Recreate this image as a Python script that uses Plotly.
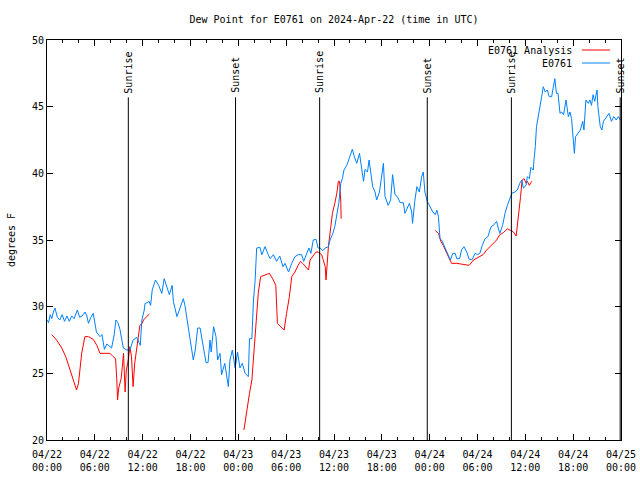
import datetime as dt
import plotly.graph_objects as go

# ---------------- data ----------------
base_time = dt.datetime(2024, 4, 22, 0, 0)

obs_hours = [0.0, 0.2, 0.4, 0.6, 0.8, 1.0, 1.3, 1.6, 1.9, 2.2, 2.5, 2.8, 3.1, 3.4, 3.8, 4.1, 4.4, 4.77, 5.0, 5.2,
             5.5, 5.8, 6.2, 6.65, 6.9, 7.2, 7.5, 7.7, 8.1, 8.4, 8.65, 8.9, 9.15, 9.57, 10.0, 10.4, 10.8, 11.25, 11.5,
             11.7, 11.9, 12.2, 12.3, 12.6, 12.8, 13.0, 13.2, 13.6, 14.0, 14.4, 14.7, 15.0, 15.35, 15.7, 15.85, 16.3,
             16.7, 17.1, 17.3, 17.7, 18.15, 18.35, 18.6, 18.9, 19.2, 19.4, 19.7, 19.95, 20.2, 20.45, 20.6, 20.9, 21.2,
             21.4, 21.7, 21.9, 22.3, 22.6, 22.75, 22.95, 23.25, 23.6, 23.9, 24.2, 24.5, 24.85, 25.25, 25.4, 25.7, 25.9,
             26.1, 26.3, 26.7, 26.95, 27.35, 27.75, 28.0, 28.4, 28.8, 29.2, 29.6, 29.85, 30.3, 30.7, 31.1, 31.5, 31.95,
             32.2, 32.6, 32.85, 33.1, 33.4, 33.75, 34.0, 34.25, 34.6, 34.9, 35.3, 35.5, 35.8, 36.1, 36.4, 36.6, 36.85,
             37.05, 37.25, 37.6, 37.9, 38.3, 38.55, 38.85, 39.2, 39.5, 39.7, 39.9, 40.2, 40.4, 40.6, 40.85, 41.15, 41.35,
             41.7, 42.0, 42.2, 42.4, 42.8, 43.1, 43.35, 43.65, 43.95, 44.3, 44.7, 44.9, 45.2, 45.45, 45.75, 45.85, 46.15,
             46.4, 46.7, 47.0, 47.2, 47.4, 47.7, 48.0, 48.4, 48.7, 48.9, 49.1, 49.3, 49.5, 49.7, 50.05, 50.35, 50.6, 50.9,
             51.2, 51.4, 51.75, 52.0, 52.3, 52.65, 52.95, 53.35, 53.7, 54.0, 54.3, 54.6, 54.95, 55.3, 55.7, 56.0, 56.4,
             56.6, 56.8, 57.15, 57.45, 57.75, 58.0, 58.3, 58.7, 59.0, 59.3, 59.55, 59.75, 60.1, 60.25, 60.5, 60.7, 61.0,
             61.1, 61.25, 61.4, 61.75, 62.05, 62.25, 62.5, 62.75, 63.0, 63.3, 63.5, 63.7, 63.9, 64.1, 64.35, 64.55, 64.8,
             65.1, 65.4, 65.6, 65.8, 66.0, 66.15, 66.3, 66.6, 66.9, 67.2, 67.35, 67.6, 67.9, 68.1, 68.3, 68.5, 68.7,
             69.0, 69.1, 69.4, 69.6, 69.8, 70.2, 70.5, 70.8, 71.1, 71.4, 71.65, 71.95]
obs_dewpoint = [29.0, 28.8, 29.4, 29.1, 29.6, 29.9, 29.2, 29.0, 29.4, 28.9, 29.3, 28.9, 29.3, 29.1, 29.75, 29.2, 29.3,
                29.6, 29.3, 28.75, 29.2, 29.5, 28.1, 27.75, 27.9, 26.8, 27.2, 27.1, 26.9, 27.8, 29.0, 28.8, 28.3, 26.9,
                26.75, 26.75, 27.5, 27.7, 27.3, 27.1, 29.0, 29.75, 30.25, 30.3, 30.4, 30.1, 31.25, 32.0, 31.6, 31.0,
                32.1, 31.6, 30.9, 31.6, 30.4, 29.25, 29.9, 30.6, 30.1, 28.5, 26.9, 26.0, 26.75, 28.4, 28.4, 27.7, 26.75,
                25.8, 25.8, 27.5, 26.6, 28.5, 27.75, 26.0, 26.5, 24.9, 25.75, 24.75, 24.0, 26.0, 26.75, 25.4, 26.6,
                25.4, 25.75, 25.0, 24.75, 27.6, 27.6, 30.5, 31.9, 34.4, 34.45, 33.9, 34.5, 33.9, 33.6, 33.9, 33.4,
                33.8, 33.0, 33.25, 32.6, 33.25, 33.75, 33.9, 33.9, 33.4, 34.0, 34.4, 34.0, 35.0, 35.05, 34.4, 34.4,
                34.2, 34.4, 34.5, 35.0, 35.4, 36.0, 36.9, 37.75, 39.25, 39.6, 40.25, 40.6, 41.1, 41.8, 41.25, 40.75,
                41.5, 40.25, 39.4, 40.3, 40.1, 41.0, 40.1, 39.0, 38.6, 38.0, 38.6, 39.75, 40.75, 38.25, 37.6, 38.0,
                39.9, 38.4, 38.25, 37.8, 37.8, 37.0, 37.4, 37.75, 37.1, 36.25, 38.0, 39.0, 38.6, 39.75, 40.1, 38.6,
                37.9, 37.5, 37.1, 36.9, 37.25, 36.75, 35.1, 35.0, 34.75, 34.25, 33.9, 33.5, 34.0, 34.0, 33.6, 33.6,
                34.25, 34.5, 34.1, 33.55, 33.55, 34.0, 33.9, 34.0, 34.6, 35.1, 35.25, 36.0, 36.1, 36.4, 35.9, 35.5,
                36.1, 37.0, 37.6, 38.0, 38.5, 38.6, 38.75, 39.25, 39.5, 38.9, 39.1, 39.75, 39.6, 40.45, 40.25, 41.1,
                42.0, 43.5, 44.9, 45.75, 46.5, 46.1, 46.25, 45.75, 45.75, 46.6, 47.1, 46.0, 46.0, 44.5, 44.6, 44.4,
                45.5, 44.25, 44.6, 44.1, 42.6, 41.5, 42.75, 43.0, 43.25, 43.9, 43.25, 45.5, 45.25, 45.5, 45.1, 45.9,
                45.4, 46.25, 45.0, 43.5, 43.25, 43.9, 44.25, 44.5, 43.9, 44.25, 44.0, 44.25, 44.0]

ana_hours = [0.6, 1.2, 1.85, 2.35, 2.9, 3.4, 3.7, 3.95, 4.35, 4.75, 5.2, 5.8, 6.25, 6.65, 7.3, 7.9, 8.3, 8.6, 8.75,
             8.85, 9.0, 9.3, 9.45, 9.6, 9.8, 9.95, 10.2, 10.4, 10.6, 10.8, 11.0, 11.25, 11.45, 11.65, 11.95, 12.1,
             12.5, 12.85, 18.0,
             24.7, 25.05, 25.4, 25.7, 25.9, 26.1, 26.3, 26.5, 26.8, 27.35, 27.9, 28.3, 28.7, 28.9, 29.3, 29.75, 30.05,
             30.4, 30.7, 31.1, 31.5, 31.8, 32.15, 32.8, 33.0, 33.3, 33.75, 34.0, 34.45, 34.6, 34.9, 35.0, 35.1, 35.3,
             35.6, 35.8, 36.1, 36.35, 36.55, 36.7, 36.85, 36.9, 42.0,
             48.7, 49.1, 49.4, 49.7, 50.15, 50.5, 50.75, 51.4, 52.0, 52.65, 52.95, 53.5, 54.1, 54.7, 55.15, 55.6,
             56.0, 56.4, 56.8, 57.25, 57.75, 58.1, 58.5, 58.85, 59.0, 59.2, 59.4, 59.6, 59.85, 60.1, 60.25, 60.5,
             60.8]
ana_dewpoint = [27.9, 27.5, 26.9, 26.25, 25.25, 24.25, 23.75, 24.25, 26.5, 27.75, 27.75, 27.55, 27.1, 26.5, 26.5,
                26.5, 26.25, 26.1, 24.6, 23.0, 23.9, 24.6, 25.5, 26.5, 23.6, 25.25, 26.0, 27.0, 26.25, 24.0, 25.75,
                27.0, 27.75, 28.6, 28.75, 29.0, 29.25, 29.45, None,
                20.75, 22.25, 23.5, 24.5, 26.25, 28.25, 29.75, 31.0, 32.25, 32.4, 32.5, 32.1, 31.6, 28.75, 28.5, 28.25,
                29.5, 30.75, 32.25, 32.6, 33.1, 33.4, 33.2, 32.75, 33.5, 33.75, 34.1, 34.1, 33.9, 33.6, 33.0, 32.0,
                33.0, 34.5, 36.0, 37.0, 37.75, 38.5, 39.4, 39.4, 37.9, 36.6, None,
                35.7, 35.5, 34.9, 34.6, 34.0, 33.6, 33.25, 33.25, 33.2, 33.1, 33.1, 33.5, 33.7, 33.9, 34.25, 34.5,
                34.75, 35.0, 35.4, 35.55, 35.85, 35.75, 35.6, 35.3, 36.0, 36.9, 38.25, 39.5, 39.6, 39.25, 39.4, 39.1,
                39.4]

sun_event_hours = [10.2, 23.65, 34.2, 47.7, 58.25, 71.9]
sun_event_labels = ["Sunrise", "Sunset", "Sunrise", "Sunset", "Sunrise", "Sunset"]

series_names = ["E0761 Analysis", "E0761"]
series_colors = ["#ff0000", "#0080ff"]


def to_time(hours):
    return [base_time + dt.timedelta(hours=h) for h in hours]


FONT = "DejaVu Sans Mono"

fig = go.Figure()
fig.add_trace(go.Scatter(x=to_time(ana_hours), y=ana_dewpoint, mode="lines", name=series_names[0],
                         line=dict(color=series_colors[0], width=1), connectgaps=False))
fig.add_trace(go.Scatter(x=to_time(obs_hours), y=obs_dewpoint, mode="lines", name=series_names[1],
                         line=dict(color=series_colors[1], width=1)))

# sunrise / sunset markers
for h, lab in zip(sun_event_hours, sun_event_labels):
    t = base_time + dt.timedelta(hours=h)
    fig.add_shape(type="line", xref="x", yref="y", x0=t, x1=t, y0=20, y1=45.7,
                  line=dict(color="black", width=1))
    fig.add_annotation(x=t, y=45.85, xref="x", yref="y", text=lab, textangle=-90, showarrow=False,
                       xanchor="center", yanchor="bottom", font=dict(family=FONT, size=10, color="black"))

# gnuplot-style legend (text left, sample right)
legend_rows_y = [0.975, 0.9425]
for name, color, yy in zip(series_names, series_colors, legend_rows_y):
    fig.add_annotation(x=0.918, y=yy, xref="paper", yref="paper", text=name, showarrow=False,
                       xanchor="right", yanchor="middle", font=dict(family=FONT, size=10, color="black"))
    fig.add_shape(type="line", xref="paper", yref="paper", x0=0.932, x1=0.981, y0=yy, y1=yy,
                  line=dict(color=color, width=1))

fig.update_layout(
    width=640, height=480,
    margin=dict(l=47, r=19, t=40, b=40, autoexpand=False),
    paper_bgcolor="white", plot_bgcolor="white",
    font=dict(family=FONT, size=10, color="black"),
    showlegend=False,
    title=dict(text="Dew Point for E0761 on 2024-Apr-22 (time in UTC)", x=0.5, xref="paper",
               xanchor="center", y=1 - 19 / 480, yref="container", yanchor="middle",
               font=dict(family=FONT, size=10, color="black")),
)
fig.update_xaxes(
    type="date", automargin=False,
    range=[base_time, base_time + dt.timedelta(hours=72)],
    tick0=base_time, dtick=6 * 3600 * 1000,
    tickformat="%m/%d<br>%H:%M",
    ticks="inside", ticklen=6, tickcolor="black", ticklabelstandoff=5,
    minor=dict(dtick=2 * 3600 * 1000, ticks="inside", ticklen=3, tickcolor="black", showgrid=False),
    showline=True, linecolor="black", linewidth=1, mirror="allticks",
    showgrid=False, zeroline=False,
    tickfont=dict(family=FONT, size=10, color="black"),
)
fig.update_yaxes(
    automargin=False,
    range=[20, 50], dtick=5, tick0=20,
    ticks="inside", ticklen=6, tickcolor="black",
    showline=True, linecolor="black", linewidth=1, mirror="allticks",
    showgrid=False, zeroline=False,
    title=dict(text="degrees F", standoff=14, font=dict(family=FONT, size=10, color="black")),
    tickfont=dict(family=FONT, size=10, color="black"),
)

fig.write_html("out.html", config={"displayModeBar": False},
               post_script="document.body.style.margin='0';document.body.style.padding='0';")
